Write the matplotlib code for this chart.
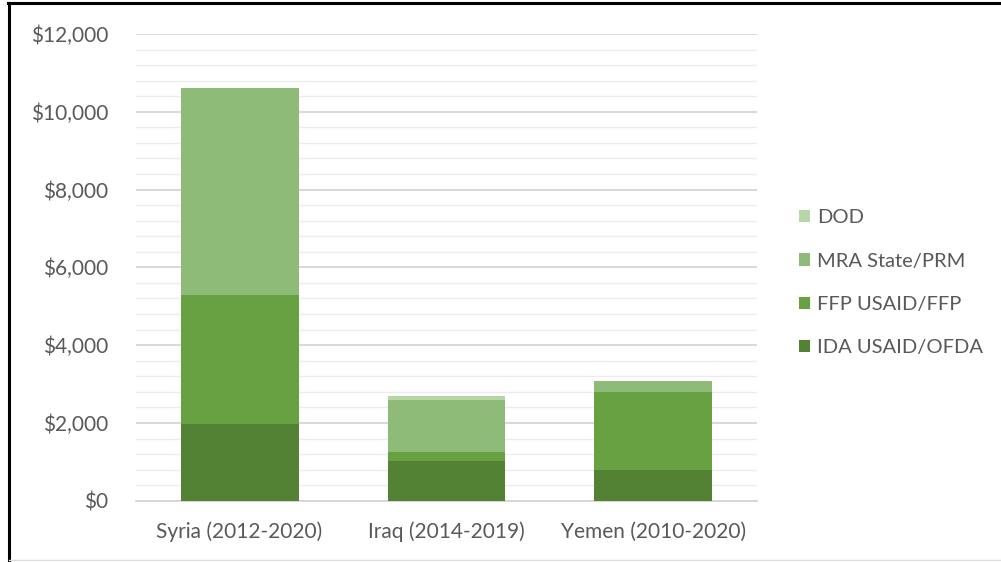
import matplotlib
matplotlib.use("Agg")
import matplotlib.pyplot as plt
from matplotlib.lines import Line2D
from matplotlib.ticker import MultipleLocator, FuncFormatter

categories = ["Syria (2012-2020)", "Iraq (2014-2019)", "Yemen (2010-2020)"]
series_names = ["IDA USAID/OFDA", "FFP USAID/FFP", "MRA State/PRM", "DOD"]
ida = [1975, 1020, 790]
ffp = [3325, 230, 2010]
mra = [5310, 1340, 280]
dod = [0, 110, 0]
values = [ida, ffp, mra, dod]
colors = ["#548235", "#68a141", "#8fbb78", "#b7d5a6"]

plt.rcParams['font.family'] = ['Lato', 'DejaVu Sans']
fig = plt.figure(figsize=(10.01, 5.62), dpi=100)
ax = fig.add_axes([0.1359, 0.109, 0.6203, 0.8305])

x = list(range(len(categories)))
bottom = [0] * len(categories)
handles = []
for name, vals, c in zip(series_names, values, colors):
    b = ax.bar(x, vals, bottom=bottom, width=0.57, color=c, label=name, zorder=3)
    handles.append(b)
    bottom = [bb + v for bb, v in zip(bottom, vals)]

ax.set_xlim(-0.5, 2.5)
ax.set_ylim(0, 12000)
ax.yaxis.set_major_locator(MultipleLocator(2000))
ax.yaxis.set_minor_locator(MultipleLocator(400))
ax.yaxis.set_major_formatter(FuncFormatter(lambda v, p: f"${v:,.0f}"))
ax.grid(axis='y', which='major', color='#d6d6d6', linewidth=1.3, zorder=0)
ax.grid(axis='y', which='minor', color='#ececec', linewidth=1.0, zorder=0)
ax.set_xticks(x)
ax.set_xticklabels(categories)
for s in ['top', 'right', 'left']:
    ax.spines[s].set_visible(False)
ax.spines['bottom'].set_color('#d6d6d6')
ax.spines['bottom'].set_linewidth(1.3)
ax.tick_params(axis='both', which='both', length=0, labelsize=15, colors='#595959')
ax.tick_params(axis='y', pad=20)
ax.tick_params(axis='x', pad=15)

leg = fig.legend(handles[::-1], series_names[::-1], loc='center left',
                 bbox_to_anchor=(0.78, 0.497), frameon=False, fontsize=14.5,
                 labelcolor='#595959', handlelength=0.55, handleheight=0.55,
                 handletextpad=0.35, labelspacing=1.3)

fig.add_artist(Line2D([0.009, 0.009], [0.0, 0.995], transform=fig.transFigure, color='black', linewidth=2.2))
fig.add_artist(Line2D([0.008, 1.0], [0.995, 0.995], transform=fig.transFigure, color='black', linewidth=2.2))
fig.add_artist(Line2D([0.009, 1.0], [0.003, 0.003], transform=fig.transFigure, color='#dddddd', linewidth=1.0))

fig.savefig("out.png", dpi=100)
